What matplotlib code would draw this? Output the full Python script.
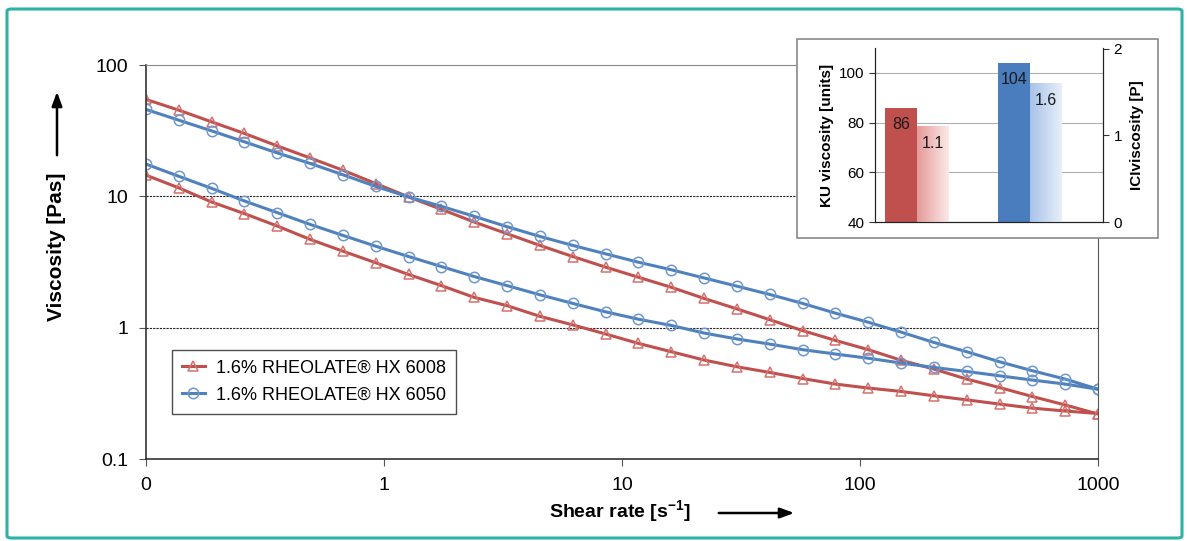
import numpy as np
import matplotlib
matplotlib.use("Agg")
import matplotlib.pyplot as plt
from matplotlib.patches import FancyBboxPatch, Rectangle
from matplotlib.colors import LinearSegmentedColormap

plt.rcParams['font.family'] = ['Liberation Sans', 'DejaVu Sans']
plt.rcParams['mathtext.fontset'] = 'custom'
plt.rcParams['mathtext.rm'] = 'Liberation Sans:bold'
plt.rcParams['mathtext.bf'] = 'Liberation Sans:bold'

# Shear rate points (log spaced, 0.1 .. 1000 1/s)
shear_rate = [0.1, 0.1374, 0.1887, 0.2593, 0.3562, 0.4894, 0.6723, 0.9237,
              1.269, 1.743, 2.395, 3.290, 4.520, 6.210, 8.531, 11.72, 16.10,
              22.12, 30.39, 41.75, 57.36, 78.80, 108.3, 148.7, 204.3, 280.7,
              385.6, 529.8, 727.8, 1000]

# HX 6008 (red), two curves
hx6008_a = [54.7, 45.3, 36.9, 30.1, 24.2, 19.6, 15.8, 12.5, 9.89, 7.96, 6.37,
            5.19, 4.23, 3.48, 2.89, 2.42, 2.03, 1.67, 1.39, 1.15, 0.95, 0.80,
            0.68, 0.565, 0.484, 0.406, 0.350, 0.299, 0.258, 0.220]
hx6008_b = [14.5, 11.6, 9.05, 7.38, 5.94, 4.70, 3.82, 3.12, 2.54, 2.09, 1.70,
            1.47, 1.22, 1.05, 0.895, 0.759, 0.656, 0.567, 0.504, 0.456, 0.410,
            0.372, 0.347, 0.327, 0.303, 0.282, 0.262, 0.244, 0.232, 0.222]
# HX 6050 (blue), two curves
hx6050_a = [45.9, 38.0, 31.5, 26.0, 21.4, 17.8, 14.6, 11.9, 9.89, 8.39, 7.04,
            5.87, 4.95, 4.23, 3.65, 3.15, 2.76, 2.39, 2.07, 1.79, 1.53, 1.29,
            1.10, 0.925, 0.772, 0.656, 0.550, 0.470, 0.406, 0.340]
hx6050_b = [17.6, 14.2, 11.5, 9.21, 7.51, 6.11, 5.04, 4.17, 3.48, 2.92, 2.45,
            2.09, 1.78, 1.53, 1.32, 1.16, 1.04, 0.91, 0.82, 0.75, 0.68, 0.63,
            0.585, 0.538, 0.498, 0.464, 0.430, 0.399, 0.372, 0.340]

x_ticks = [0.1, 1, 10, 100, 1000]
x_ticklabels = ['0', '1', '10', '100', '1000']
y_ticks = [0.1, 1, 10, 100]
y_ticklabels = ['0.1', '1', '10', '100']

# inset bar data
products = ['HX 6008', 'HX 6050']
ku_visc = [86, 104]
ici_visc = [1.1, 1.6]

RED = '#c0504d'
BLUE = '#4f81bd'
RED_MK = '#d5726f'
BLUE_MK = '#6f98cf'

fig = plt.figure(figsize=(11.87, 5.41), dpi=100)
W, H = 1187, 541

# teal frame
fig.patches.append(FancyBboxPatch((7 / W, 1 - 538 / H), 1175 / W, 529 / H,
                                  boxstyle='round,pad=0,rounding_size=0.004',
                                  transform=fig.transFigure, fill=False,
                                  edgecolor='#2bb3a7', lw=2.2, zorder=0))

ax = fig.add_axes([146 / W, 1 - 459 / H, 952 / W, 394 / H])
ax.set_xscale('log')
ax.set_yscale('log')

kw = dict(lw=2.2, ms=7.5, mfc='none', mew=1.1)
ax.plot(shear_rate, hx6008_a, color=RED, marker='^', mec=RED_MK, **kw,
        label='1.6% RHEOLATE® HX 6008')
ax.plot(shear_rate, hx6050_a, color=BLUE, marker='o', mec=BLUE_MK, **kw,
        label='1.6% RHEOLATE® HX 6050')
ax.plot(shear_rate, hx6008_b, color=RED, marker='^', mec=RED_MK, **kw)
ax.plot(shear_rate, hx6050_b, color=BLUE, marker='o', mec=BLUE_MK, **kw)

ax.set_xlim(0.1, 1000)
ax.set_ylim(0.1, 100)
ax.set_xticks(x_ticks)
ax.set_xticklabels(x_ticklabels)
ax.set_yticks(y_ticks)
ax.set_yticklabels(y_ticklabels)
ax.minorticks_off()
ax.tick_params(labelsize=14, length=5, width=0.8, color='#555555', pad=8)
for t in [1, 10]:
    ax.axhline(t, color='#222222', lw=0.8, ls=(0, (2, 1)), zorder=0)
for s in ['left', 'bottom']:
    ax.spines[s].set_color('#333333')
    ax.spines[s].set_linewidth(1.2)
ax.spines['top'].set_color('#888888')
ax.spines['right'].set_color('#555555')

leg = ax.legend(loc='upper left', bbox_to_anchor=(0.027, 0.277),
                borderaxespad=0, fontsize=13, frameon=True, fancybox=False,
                handlelength=1.3, handletextpad=0.6, labelspacing=0.55,
                borderpad=0.55)
leg.get_frame().set_edgecolor('#222222')
leg.get_frame().set_linewidth(1.0)

# axis titles with arrows
arrow_style = '-|>,head_length=0.6,head_width=0.22'
fig.text(57 / W, 1 - 247 / H, 'Viscosity [Pas]', rotation=90, ha='center',
         va='center', fontsize=15, fontweight='bold')
fig.add_artist(matplotlib.patches.FancyArrowPatch(
    (57 / W, 1 - 158 / H), (57 / W, 1 - 89 / H), transform=fig.transFigure,
    arrowstyle=arrow_style, mutation_scale=14, lw=1.8, color='black'))
fig.text(620 / W, 1 - 512 / H, r'Shear rate [s$^{-1}$]', ha='center',
         va='center', fontsize=14, fontweight='bold')
fig.add_artist(matplotlib.patches.FancyArrowPatch(
    (716 / W, 1 - 513 / H), (797 / W, 1 - 513 / H), transform=fig.transFigure,
    arrowstyle=arrow_style, mutation_scale=14, lw=1.8, color='black'))

# inset box
box = Rectangle((797 / W, 1 - 238 / H), 361 / W, 199 / H,
                transform=fig.transFigure, facecolor='white',
                edgecolor='#8a8a8a', lw=1.2, zorder=1)
fig.add_artist(box)

ax_in = fig.add_axes([875 / W, 1 - 222 / H, 228 / W, 174 / H], zorder=2)
ax_in2 = ax_in.twinx()

pos = np.arange(len(products))
bw = 0.283
ku_bars = ax_in.bar(pos - bw / 2, ku_visc, width=bw, bottom=0,
                    color=[RED, '#4a7dbd'], zorder=2)
ici_bars = ax_in2.bar(pos + bw / 2, ici_visc, width=bw, color='none', zorder=2)

grad_maps = [LinearSegmentedColormap.from_list('r', ['#e49a98', '#fbe9e9']),
             LinearSegmentedColormap.from_list('b', ['#a8c2e8', '#e8eff9'])]
grad = np.linspace(0, 1, 64).reshape(1, -1)
for bar, cm in zip(ici_bars, grad_maps):
    x0 = bar.get_x()
    ax_in2.imshow(grad, extent=[x0, x0 + bar.get_width(), 0, bar.get_height()],
                  aspect='auto', cmap=cm, zorder=2)

for bar, v in zip(ku_bars, ku_visc):
    ax_in.annotate(str(v), (bar.get_x() + bar.get_width() / 2, v),
                   xytext=(0, -12), textcoords='offset points', ha='center',
                   va='center', fontsize=11.5, color='#1a1a1a', zorder=3)
for bar, v in zip(ici_bars, ici_visc):
    ax_in2.annotate(str(v), (bar.get_x() + bar.get_width() / 2, v),
                    xytext=(0, -12), textcoords='offset points', ha='center',
                    va='center', fontsize=11.5, color='#1a1a1a', zorder=3)

ax_in.set_xlim(-0.372, 1.646)
ax_in2.set_xlim(-0.372, 1.646)
ax_in.set_ylim(40, 110)
ax_in.set_yticks([40, 60, 80, 100])
ax_in2.set_ylim(0, 2.0 * 70 / 69.6)
ax_in2.set_yticks([0, 1, 2])
ax_in.set_xticks([])
ax_in.yaxis.grid(True, color='#b0b0b0', lw=0.8)
ax_in.set_axisbelow(True)
ax_in.tick_params(labelsize=11, length=4, color='#333333')
ax_in2.tick_params(labelsize=11, length=4, color='#333333')
for a in (ax_in, ax_in2):
    a.spines['top'].set_visible(False)
    for s in ['left', 'right', 'bottom']:
        a.spines[s].set_color('#222222')
ax_in.set_ylabel('KU viscosity [units]', fontsize=11, fontweight='bold',
                 labelpad=4)
ax_in2.set_ylabel('ICIviscosity [P]', fontsize=11, fontweight='bold',
                  labelpad=6)

fig.savefig('out.png', dpi=100)
